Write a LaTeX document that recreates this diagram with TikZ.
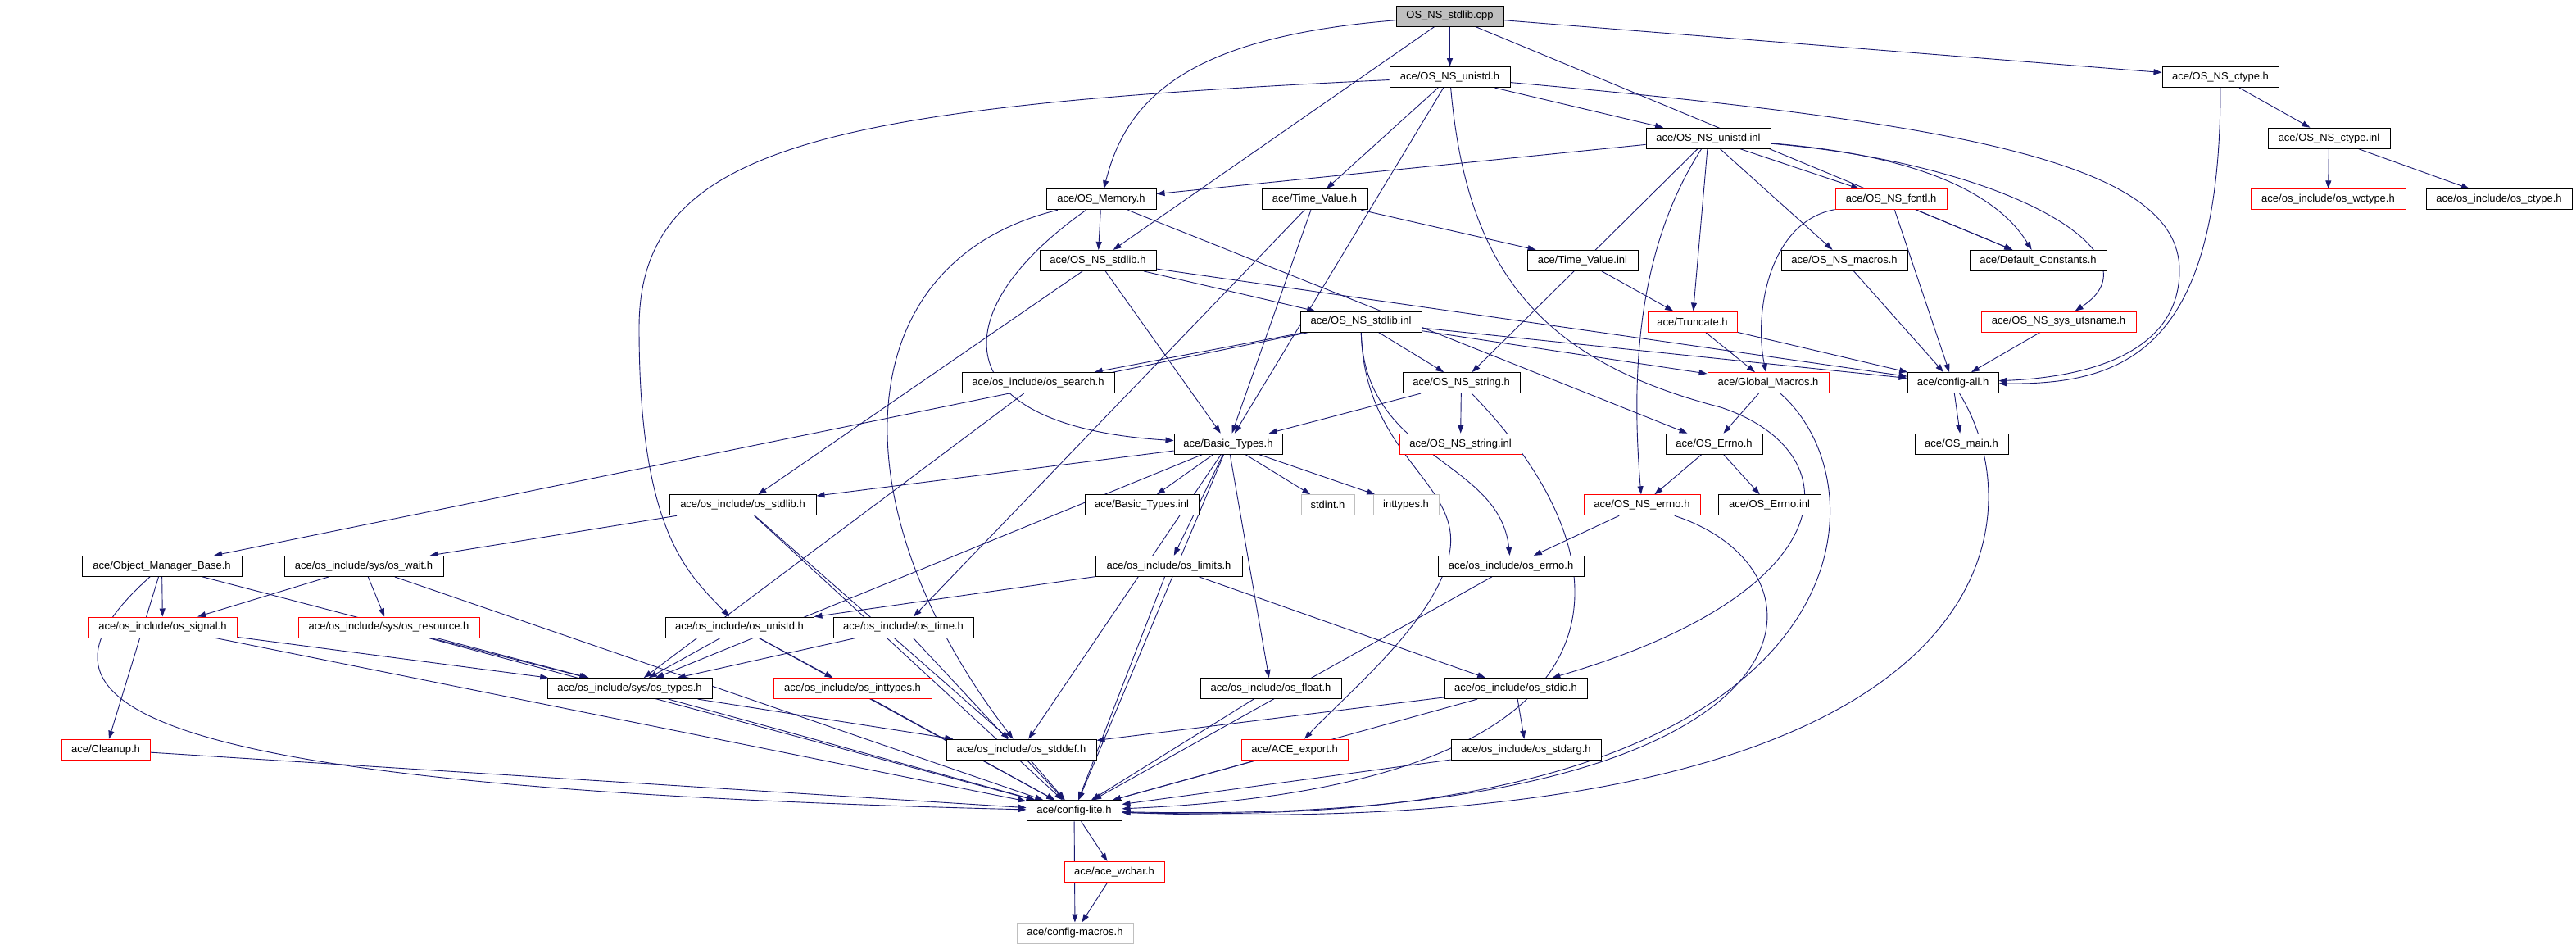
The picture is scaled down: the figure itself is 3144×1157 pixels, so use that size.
\documentclass[tikz,border=0pt]{standalone}
\usepackage{fontspec}
\setmainfont{Liberation Sans}
\usetikzlibrary{arrows.meta,backgrounds}

\definecolor{edgeblue}{HTML}{191970}
\definecolor{boxgray}{HTML}{BFBFBF}

\tikzset{
	hdr/.style={draw=black, line width=1pt, fill=white, minimum width=#1, minimum height=25pt, inner sep=0pt, font=\fontsize{13}{15}\selectfont},
	nohdr/.style={hdr=#1, draw=red},
	syshdr/.style={hdr=#1, draw=boxgray},
	incl/.style={draw=edgeblue, line width=0.9pt, -{Triangle[length=10pt,width=7pt]}}
}

\begin{document}
\begin{tikzpicture}[x=1pt, y=1pt]
			\useasboundingbox (0,0) rectangle (3144,-1157);
			
			%row 0-2
			\node (cpp) at (1769.5,-19.5) [hdr=131pt, fill=boxgray]{OS\_NS\_stdlib.cpp};
			\node (unistdh) at (1769.5,-94.1) [hdr=147pt]{ace/OS\_NS\_unistd.h};
			\node (ctypeh) at (2710,-94.1) [hdr=142pt]{ace/OS\_NS\_ctype.h};
			\node (unistdinl) at (2085,-168.7) [hdr=152pt]{ace/OS\_NS\_unistd.inl};
			\node (ctypeinl) at (2842.5,-168.7) [hdr=149pt]{ace/OS\_NS\_ctype.inl};
			
			%row 3-5
			\node (memory) at (1344,-243.3) [hdr=134pt]{ace/OS\_Memory.h};
			\node (timevalue) at (1604.5,-243.3) [hdr=129pt]{ace/Time\_Value.h};
			\node (fcntl) at (2308,-243.3) [nohdr=136pt]{ace/OS\_NS\_fcntl.h};
			\node (wctype) at (2841.5,-243.3) [nohdr=189pt]{ace/os\_include/os\_wctype.h};
			\node (osctype) at (3050,-243.3) [hdr=178pt]{ace/os\_include/os\_ctype.h};
			\node (stdlibh) at (1340,-317.9) [hdr=142pt]{ace/OS\_NS\_stdlib.h};
			\node (tvinl) at (1931.5,-317.9) [hdr=135pt]{ace/Time\_Value.inl};
			\node (macros) at (2251,-317.9) [hdr=154pt]{ace/OS\_NS\_macros.h};
			\node (defconst) at (2487.5,-317.9) [hdr=167pt]{ace/Default\_Constants.h};
			\node (stdlibinl) at (1661,-392.5) [hdr=148pt]{ace/OS\_NS\_stdlib.inl};
			\node (truncate) at (2065.5,-392.5) [nohdr=109pt]{ace/Truncate.h};
			\node (utsname) at (2512.5,-392.5) [nohdr=189pt]{ace/OS\_NS\_sys\_utsname.h};
			
			%row 6-8
			\node (search) at (1267,-467.1) [hdr=186pt]{ace/os\_include/os\_search.h};
			\node (stringh) at (1783.5,-467.1) [hdr=143pt]{ace/OS\_NS\_string.h};
			\node (globalmacros) at (2158,-467.1) [nohdr=148pt]{ace/Global\_Macros.h};
			\node (configall) at (2383.5,-467.1) [hdr=111pt]{ace/config-all.h};
			\node (basictypes) at (1499,-541.7) [hdr=132pt]{ace/Basic\_Types.h};
			\node (stringinl) at (1782.5,-541.7) [nohdr=149pt]{ace/OS\_NS\_string.inl};
			\node (oserrno) at (2092,-541.7) [hdr=118pt]{ace/OS\_Errno.h};
			\node (osmain) at (2394,-541.7) [hdr=114pt]{ace/OS\_main.h};
			\node (osstdlib) at (906.5,-616.3) [hdr=179pt]{ace/os\_include/os\_stdlib.h};
			\node (btinl) at (1393.5,-616.3) [hdr=139pt]{ace/Basic\_Types.inl};
			\node (stdint) at (1620.5,-616.3) [syshdr=65pt]{stdint.h};
			\node (inttypes) at (1716,-616.3) [syshdr=80pt]{inttypes.h};
			\node (nserrno) at (2004,-616.3) [nohdr=142pt]{ace/OS\_NS\_errno.h};
			\node (errnoinl) at (2159.5,-616.3) [hdr=125pt]{ace/OS\_Errno.inl};
			
			%row 9-11
			\node (omb) at (197.5,-690.9) [hdr=195pt]{ace/Object\_Manager\_Base.h};
			\node (oswait) at (444,-690.9) [hdr=194pt]{ace/os\_include/sys/os\_wait.h};
			\node (limits) at (1426.5,-690.9) [hdr=179pt]{ace/os\_include/os\_limits.h};
			\node (errnoh) at (1844,-690.9) [hdr=178pt]{ace/os\_include/os\_errno.h};
			\node (signal) at (198.5,-765.5) [nohdr=181pt]{ace/os\_include/os\_signal.h};
			\node (resource) at (474.5,-765.5) [nohdr=221pt]{ace/os\_include/sys/os\_resource.h};
			\node (osunistd) at (902.5,-765.5) [hdr=181pt]{ace/os\_include/os\_unistd.h};
			\node (ostime) at (1102.5,-765.5) [hdr=171pt]{ace/os\_include/os\_time.h};
			\node (ostypes) at (768.5,-840.1) [hdr=201pt]{ace/os\_include/sys/os\_types.h};
			\node (osinttypes) at (1040.5,-840.1) [nohdr=193pt]{ace/os\_include/os\_inttypes.h};
			\node (float) at (1551,-840.1) [hdr=172pt]{ace/os\_include/os\_float.h};
			\node (stdio) at (1850,-840.1) [hdr=174pt]{ace/os\_include/os\_stdio.h};
			
			%row 12-15
			\node (cleanup) at (129,-914.7) [nohdr=108pt]{ace/Cleanup.h};
			\node (stddef) at (1246.5,-914.7) [hdr=183pt]{ace/os\_include/os\_stddef.h};
			\node (export) at (1580,-914.7) [nohdr=130pt]{ace/ACE\_export.h};
			\node (stdarg) at (1862.5,-914.7) [hdr=183pt]{ace/os\_include/os\_stdarg.h};
			\node (configlite) at (1311,-989.3) [hdr=116pt]{ace/config-lite.h};
			\node (wchar) at (1360,-1063.9) [nohdr=122pt]{ace/ace\_wchar.h};
			\node (macrosh) at (1312,-1138.5) [syshdr=142pt]{ace/config-macros.h};
			
			\begin{scope}[on background layer]
			%include edges
			\foreach \a/\b in {cpp/stdlibh, cpp/unistdh, cpp/ctypeh, cpp/defconst,
				unistdh/unistdinl, unistdh/timevalue, unistdh/basictypes,
				ctypeh/ctypeinl, ctypeinl/wctype, ctypeinl/osctype,
				unistdinl/memory, unistdinl/stringh, unistdinl/truncate,
				unistdinl/macros, unistdinl/fcntl,
				memory/stdlibh, memory/oserrno,
				timevalue/tvinl, timevalue/basictypes, timevalue/ostime,
				fcntl/defconst, fcntl/configall,
				stdlibh/stdlibinl, stdlibh/basictypes, stdlibh/osstdlib, stdlibh/configall,
				tvinl/truncate, macros/configall,
				stdlibinl/search, stdlibinl/stringh, stdlibinl/globalmacros, stdlibinl/configall,
				stdlibinl/omb,
				truncate/globalmacros, truncate/configall, utsname/configall,
				search/ostypes, stringh/basictypes, stringh/stringinl,
				globalmacros/oserrno, configall/osmain,
				basictypes/btinl, basictypes/stdint, basictypes/inttypes, basictypes/limits,
				basictypes/float, basictypes/osstdlib, basictypes/ostypes, basictypes/stddef,
				basictypes/configlite,
				oserrno/nserrno, oserrno/errnoinl, nserrno/errnoh,
				osstdlib/oswait, osstdlib/stddef, osstdlib/configlite,
				omb/signal, omb/cleanup, omb/ostypes,
				oswait/signal, oswait/resource, oswait/configlite,
				limits/osunistd, limits/stdio, limits/configlite, errnoh/configlite,
				signal/ostypes, signal/configlite, resource/ostypes, resource/configlite,
				osunistd/ostypes, osunistd/osinttypes, osunistd/configlite,
				ostime/ostypes, ostime/configlite, ostypes/stddef, ostypes/configlite,
				osinttypes/configlite, float/configlite,
				stdio/stddef, stdio/stdarg, stdio/configlite,
				cleanup/configlite, stddef/configlite, export/configlite, stdarg/configlite,
				configlite/wchar, configlite/macrosh, wchar/macrosh}{
				\draw[incl] (\a) -- (\b);
			}
			
			%long bent edges
			\draw[incl] (cpp) .. controls (1450,-45) and (1375,-120) .. (memory);
			\draw[incl] (unistdh) .. controls (1000,-130) and (780,-180) .. (780,-400) .. controls (780,-650) and (840,-700) .. (osunistd);
			\draw[incl] (unistdh) .. controls (2400,-150) and (2660,-200) .. (2660,-330) .. controls (2660,-430) and (2550,-460) .. (configall);
			\draw[incl] (unistdh) .. controls (1790,-330) and (1880,-440) .. (2100,-497) .. controls (2260,-550) and (2260,-720) .. (stdio);
			\draw[incl] (ctypeh) .. controls (2710,-420) and (2600,-470) .. (configall);
			\draw[incl] (unistdinl) .. controls (2350,-190) and (2440,-240) .. (defconst);
			\draw[incl] (unistdinl) .. controls (2450,-200) and (2640,-310) .. (utsname);
			\draw[incl] (unistdinl) .. controls (2000,-300) and (1990,-450) .. (nserrno);
			\draw[incl] (fcntl) .. controls (2160,-270) and (2140,-380) .. (globalmacros);
			\draw[incl] (memory) .. controls (1150,-380) and (1150,-520) .. (basictypes);
			\draw[incl] (memory) .. controls (1030,-320) and (1020,-620) .. (stddef);
			\draw[incl] (stdlibinl) .. controls (1665,-560) and (1830,-560) .. (errnoh);
			\draw[incl] (stdlibinl) .. controls (1665,-560) and (1790,-590) .. (1768,-680) .. controls (1750,-760) and (1640,-850) .. (export);
			\draw[incl] (omb) .. controls (20,-850) and (100,-960) .. (configlite);
			\draw[incl] (stringh) .. controls (2010,-700) and (2000,-960) .. (configlite);
			\draw[incl] (nserrno) .. controls (2260,-700) and (2230,-1010) .. (configlite);
			\draw[incl] (globalmacros) .. controls (2310,-600) and (2280,-1020) .. (configlite);
			\draw[incl] (configall) .. controls (2490,-640) and (2450,-1030) .. (configlite);
			\end{scope}
		\end{tikzpicture}
\end{document}
